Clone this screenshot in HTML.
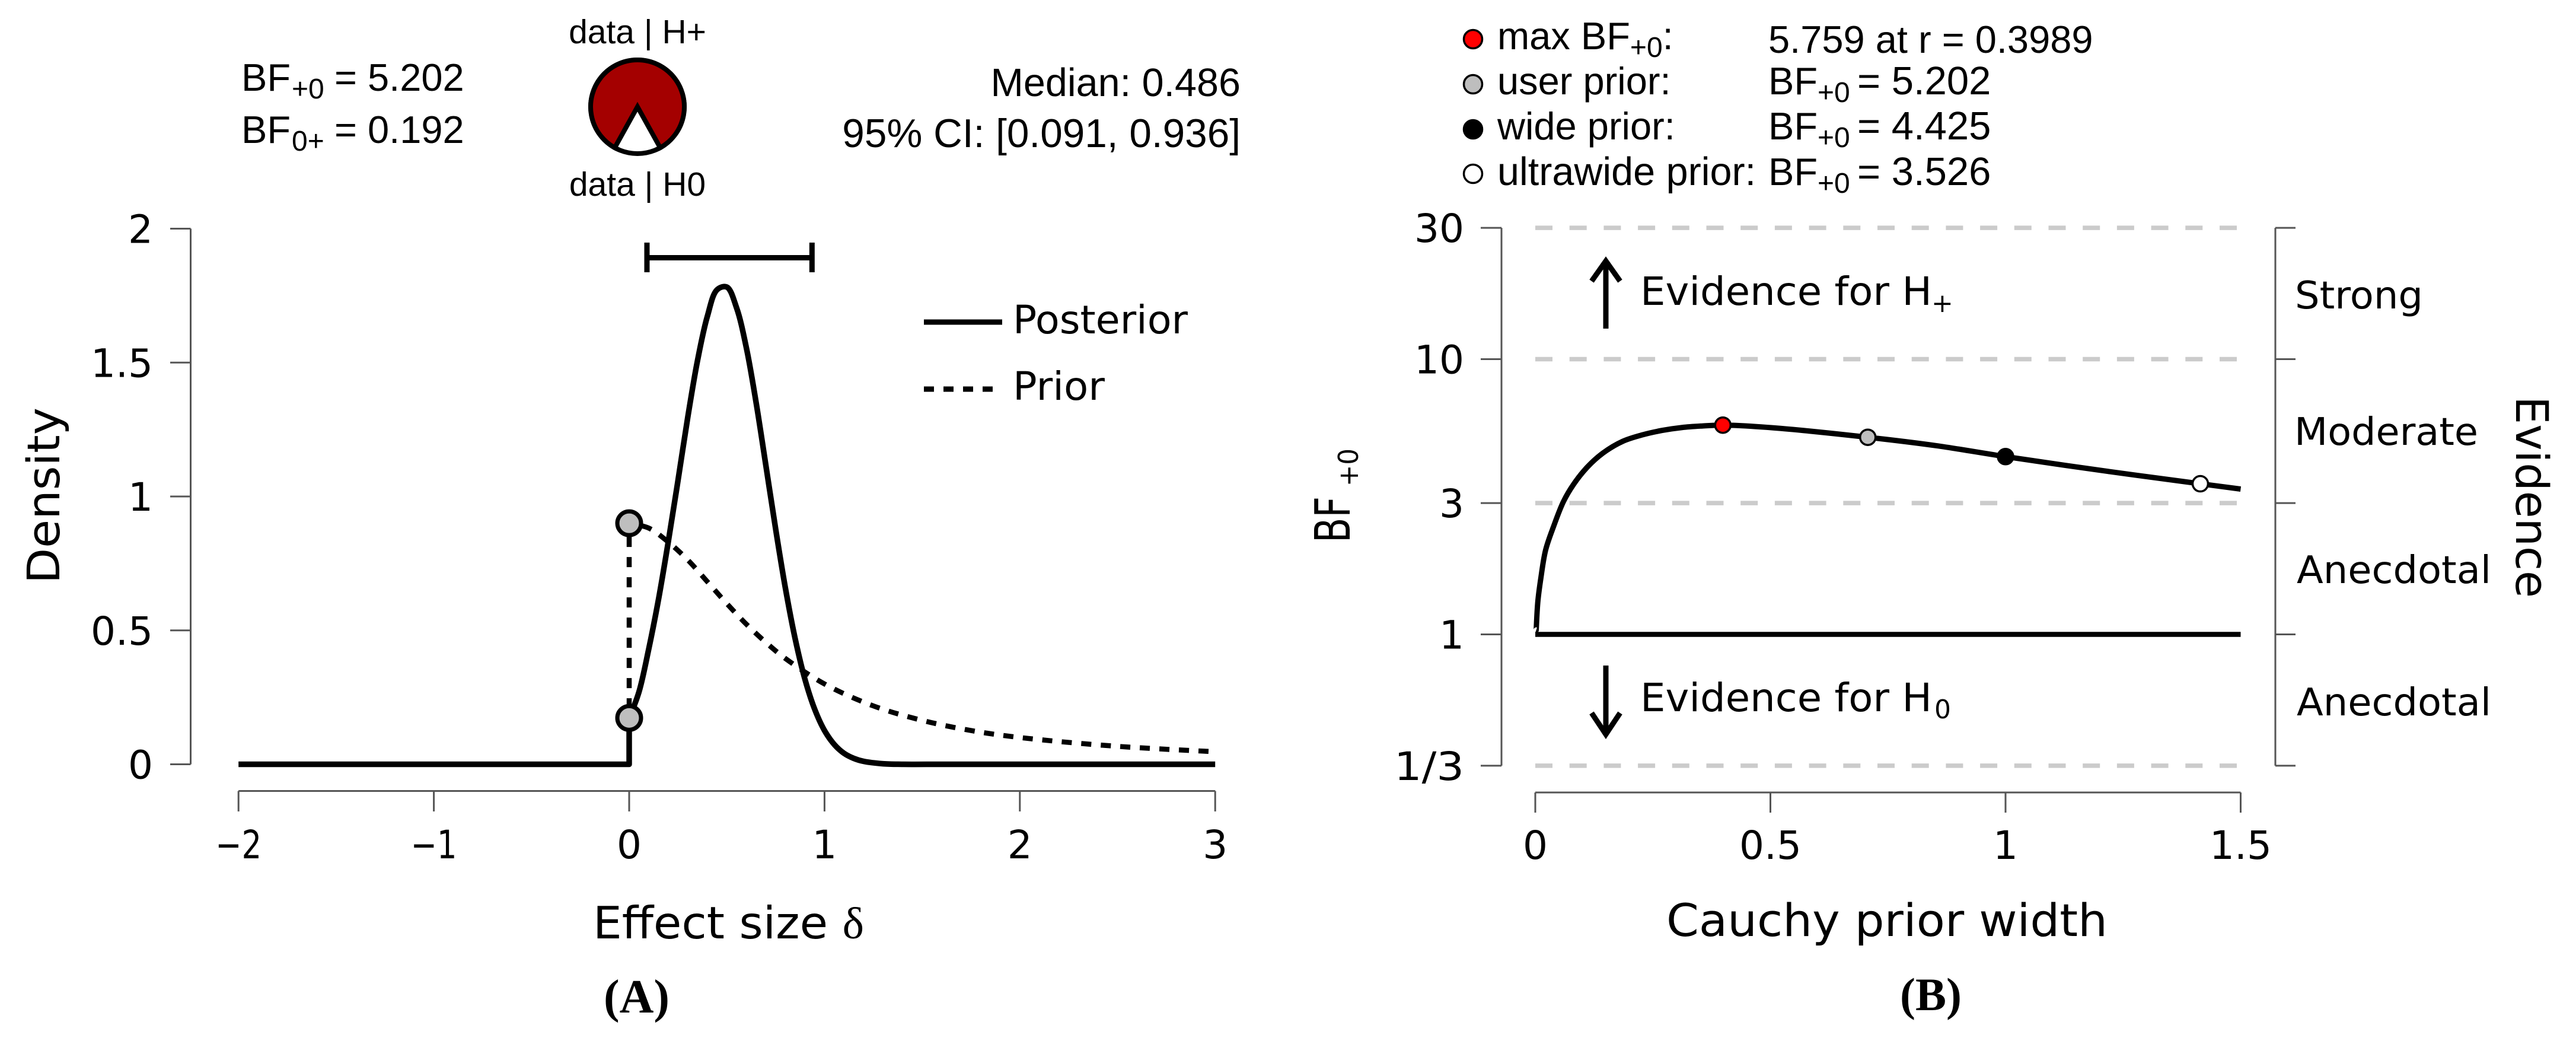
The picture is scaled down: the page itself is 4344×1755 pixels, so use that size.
<!DOCTYPE html>
<html lang="en">
<head>
<meta charset="utf-8">
<title>Bayesian analysis: prior and posterior, Bayes factor robustness</title>
<style>
html,body{margin:0;padding:0;background:#fff;}
svg{display:block;}
.h{font-family:"Liberation Sans",sans-serif;font-size:65px;fill:#000;}
.d{font-family:"DejaVu Sans",sans-serif;fill:#000;}
.s{font-family:"Liberation Serif",serif;font-weight:bold;fill:#000;}
</style>
</head>
<body>
<svg id="fig" xmlns="http://www.w3.org/2000/svg" width="4344" height="1755" viewBox="0 0 4344 1755">
<rect width="4344" height="1755" fill="#fff"/>

<!-- Panel A header -->
<text class="h" x="407" y="153">BF<tspan x="492" y="166" font-size="48">+0</tspan><tspan x="564" y="153">= 5.202</tspan></text>
<text class="h" x="407" y="241">BF<tspan x="492" y="254" font-size="48">0+</tspan><tspan x="564" y="241">= 0.192</tspan></text>
<text class="h" x="1075" y="73" text-anchor="middle" style="font-size:57px">data | H+</text>
<text class="h" x="1075" y="330" text-anchor="middle" style="font-size:57px">data | H0</text>
<text class="h" x="2092" y="162" text-anchor="end" style="font-size:66.5px">Median: 0.486</text>
<text class="h" x="2092" y="248" text-anchor="end" style="font-size:67.5px">95% CI: [0.091, 0.936]</text>
<g id="pie"></g>

<!-- Panel A chart -->
<g id="panelA"></g>
<text class="d" transform="translate(100,984) rotate(-90)" font-size="76" textLength="297" lengthAdjust="spacingAndGlyphs">Density</text>
<text class="d" x="1000" y="1582" font-size="75" textLength="457" lengthAdjust="spacingAndGlyphs">Effect size <tspan font-family="Liberation Serif">δ</tspan></text>
<text class="d" x="1708" y="562" font-size="66" textLength="295" lengthAdjust="spacingAndGlyphs">Posterior</text>
<text class="d" x="1708" y="674" font-size="66" textLength="155" lengthAdjust="spacingAndGlyphs">Prior</text>
<text class="s" x="1018" y="1707" font-size="80">(A)</text>

<!-- Panel B header -->
<g id="panelBLegend"></g>
<text class="h" x="2525" y="83">max BF<tspan y="96" font-size="48">+0</tspan><tspan y="83">:</tspan></text>
<text class="h" x="2982" y="89">5.759 at r = 0.3989</text>
<text class="h" x="2525" y="159">user prior:</text>
<text class="h" x="2982" y="159">BF<tspan x="3065" y="172" font-size="48">+0</tspan><tspan x="3132" y="159" font-size="67">= 5.202</tspan></text>
<text class="h" x="2525" y="235">wide prior:</text>
<text class="h" x="2982" y="235">BF<tspan x="3065" y="248" font-size="48">+0</tspan><tspan x="3132" y="235" font-size="67">= 4.425</tspan></text>
<text class="h" x="2525" y="312" style="font-size:66.5px">ultrawide prior:</text>
<text class="h" x="2982" y="312">BF<tspan x="3065" y="325" font-size="48">+0</tspan><tspan x="3132" y="312" font-size="67">= 3.526</tspan></text>

<!-- Panel B chart -->
<g id="panelB"></g>
<text class="d" transform="translate(2276,915) rotate(-90)" font-size="82" textLength="78" lengthAdjust="spacingAndGlyphs">BF</text>
<text class="d" transform="translate(2290,820) rotate(-90)" font-size="46" textLength="64" lengthAdjust="spacingAndGlyphs">+0</text>
<text class="d" x="2810" y="1578" font-size="76" textLength="744" lengthAdjust="spacingAndGlyphs">Cauchy prior width</text>
<text class="d" transform="translate(4243,668) rotate(90)" font-size="76" textLength="340" lengthAdjust="spacingAndGlyphs">Evidence</text>
<text class="d" x="3870" y="520" font-size="64" textLength="216" lengthAdjust="spacingAndGlyphs">Strong</text>
<text class="d" x="3869" y="750" font-size="64" textLength="310" lengthAdjust="spacingAndGlyphs">Moderate</text>
<text class="d" x="3873" y="983" font-size="64" textLength="328" lengthAdjust="spacingAndGlyphs">Anecdotal</text>
<text class="d" x="3873" y="1206" font-size="64" textLength="328" lengthAdjust="spacingAndGlyphs">Anecdotal</text>
<text class="d" x="2766" y="514" font-size="66" textLength="492" lengthAdjust="spacingAndGlyphs">Evidence for H</text>
<text class="d" x="3257" y="526" font-size="44">+</text>
<text class="d" x="2766" y="1199" font-size="66" textLength="492" lengthAdjust="spacingAndGlyphs">Evidence for H</text>
<text class="d" x="3262" y="1211" font-size="44">0</text>
<g fill="none" stroke="#000" stroke-width="9">
<path d="M2708 554V442M2684 474L2708 440L2732 474"/>
<path d="M2708 1122V1236M2684 1202L2708 1238L2732 1202"/>
</g>
<text class="s" x="3204" y="1703" font-size="78">(B)</text>
</svg>

<script>
// ---- Panel A data ----
const bfPlusZero = 5.202;
const xTicksA = [-2, -1, 0, 1, 2, 3];
const xTickLabelsA = ['\u22122', '\u22121', '0', '1', '2', '3'];
const yTicksA = [0, 0.5, 1, 1.5, 2];
const yTickLabelsA = ['0', '0.5', '1', '1.5', '2'];
const negativeDelta = [-2, 0];
const negativeDensity = [0, 0];
const posteriorDelta = [0, 0.05, 0.1, 0.15, 0.2, 0.25, 0.3, 0.35, 0.4, 0.45, 0.5, 0.55, 0.6, 0.65, 0.7, 0.75, 0.8, 0.85, 0.9, 0.95, 1.0, 1.05, 1.1, 1.15, 1.2, 1.3, 1.4, 1.6, 2, 3];
const posteriorDensity = [0.173, 0.27, 0.43, 0.615, 0.83, 1.06, 1.296, 1.508, 1.672, 1.772, 1.782, 1.704, 1.555, 1.35, 1.115, 0.878, 0.657, 0.468, 0.317, 0.205, 0.126, 0.074, 0.041, 0.022, 0.011, 0.002, 0, 0, 0, 0];
const priorDelta = [0, 0.1, 0.2, 0.3, 0.4, 0.5, 0.6, 0.7, 0.8, 1, 1.25, 1.5, 1.75, 2, 2.5, 3];
const priorDensity = [0.9, 0.882, 0.83, 0.763, 0.682, 0.6, 0.523, 0.455, 0.395, 0.3, 0.218, 0.164, 0.126, 0.1, 0.067, 0.047];
const credibleInterval = [0.091, 0.936];
const savageDickeyDensity = [0.9, 0.173];

// ---- Panel B data ----
const xTicksB = [0, 0.5, 1, 1.5];
const xTickLabelsB = ['0', '0.5', '1', '1.5'];
const yTicksB = [30, 10, 3, 1, 1 / 3];
const yTickLabelsB = ['30', '10', '3', '1', '1/3'];
const priorWidth = [0.002, 0.0055, 0.012, 0.022, 0.039, 0.06, 0.081, 0.111, 0.144, 0.186, 0.228, 0.27, 0.312, 0.354, 0.3989, 0.506, 0.7071, 0.852, 1, 1.218, 1.4142, 1.5];
const bfValues = [1.037, 1.319, 1.608, 2.026, 2.47, 3.04, 3.5, 4.06, 4.56, 5.03, 5.31, 5.51, 5.645, 5.716, 5.759, 5.63, 5.202, 4.85, 4.425, 3.91, 3.526, 3.373];
const markerWidths = [0.3989, 0.7071, 1, 1.4142];
const markerBF = [5.759, 5.202, 4.425, 3.526];
const markerFills = ['#ff0000', '#bebebe', '#000000', '#ffffff'];
const markerNames = ['max', 'user', 'wide', 'ultrawide'];

// ---- Scales ----
const xA = v => 1061 + 329.4 * v;
const yA = v => 1288.5 - 451.5 * v;
const xB = v => 2589 + 793 * v;
const yB = v => 1069.5 - 464 * Math.log10(v);

const NS = 'http://www.w3.org/2000/svg';
function mk(parent, tag, props, text) {
  const el = document.createElementNS(NS, tag);
  for (const k in props) el.setAttribute(k, props[k]);
  if (text !== undefined) el.textContent = text;
  parent.appendChild(el);
  return el;
}
// Centripetal Catmull-Rom through the read points
function smooth(pts) {
  let d = '';
  const dist = (a, b) => Math.sqrt(Math.hypot(a[0] - b[0], a[1] - b[1]));
  for (let i = 0; i < pts.length - 1; i++) {
    const p0 = pts[Math.max(i - 1, 0)], p1 = pts[i], p2 = pts[i + 1], p3 = pts[Math.min(i + 2, pts.length - 1)];
    const d1 = dist(p0, p1), d2 = dist(p1, p2), d3 = dist(p2, p3);
    const b1 = [0, 1].map(k => d1 === 0 ? p1[k] :
      (d1 * d1 * p2[k] - d2 * d2 * p0[k] + (2 * d1 * d1 + 3 * d1 * d2 + d2 * d2) * p1[k]) / (3 * d1 * (d1 + d2)));
    const b2 = [0, 1].map(k => d3 === 0 ? p2[k] :
      (d3 * d3 * p1[k] - d2 * d2 * p3[k] + (2 * d3 * d3 + 3 * d3 * d2 + d2 * d2) * p2[k]) / (3 * d3 * (d3 + d2)));
    d += 'C' + b1[0].toFixed(2) + ' ' + b1[1].toFixed(2) + ' ' + b2[0].toFixed(2) + ' ' + b2[1].toFixed(2) + ' ' + p2[0].toFixed(2) + ' ' + p2[1].toFixed(2);
  }
  return d;
}
const axisStyle = {stroke: '#555', 'stroke-width': 3, fill: 'none'};

// ---- Pie ----
const pie = document.getElementById('pie');
const cx = 1075, cy = 180, R = 79;
const h0Share = 1 / (1 + bfPlusZero);
const half = Math.PI * h0Share;
const pieBase = mk(pie, 'circle', {cx: cx, cy: cy, r: R, fill: '#fff', stroke: '#000', 'stroke-width': 8});


const pieSlice = mk(pie, 'path', {
  d: 'M' + cx + ' ' + cy + 'L' + (cx + R * Math.sin(half)) + ' ' + (cy + R * Math.cos(half)) +
     'A' + R + ' ' + R + ' 0 1 0 ' + (cx - R * Math.sin(half)) + ' ' + (cy + R * Math.cos(half)) + 'Z',
  fill: '#a40000', stroke: '#000', 'stroke-width': 8, 'stroke-linejoin': 'miter', 'stroke-miterlimit': 10});



// ---- Panel A ----
const A = document.getElementById('panelA');
const yAxisA = mk(A, 'line', Object.assign({x1: 321.5, x2: 321.5, y1: yA(2), y2: yA(0)}, axisStyle));


yTicksA.forEach((t, i) => {
  const tick = mk(A, 'line', Object.assign({x1: 287, x2: 321.5, y1: yA(t), y2: yA(t)}, axisStyle));
  
  
  const lab = mk(A, 'text', {class: 'd', x: 258, y: yA(t) + 24, 'font-size': 66, 'text-anchor': 'end'}, yTickLabelsA[i]);
  
  
});
const xAxisA = mk(A, 'line', Object.assign({x1: xA(-2), x2: xA(3), y1: 1333.5, y2: 1333.5}, axisStyle));


xTicksA.forEach((t, i) => {
  const tick = mk(A, 'line', Object.assign({x1: xA(t), x2: xA(t), y1: 1333.5, y2: 1368}, axisStyle));
  
  
  const props = {class: 'd', x: xA(t), y: 1447, 'font-size': 66, 'text-anchor': 'middle'};
  if (t < 0) { props.textLength = 78; props.lengthAdjust = 'spacingAndGlyphs'; }
  const lab = mk(A, 'text', props, xTickLabelsA[i]);
  
  
});
const priorVertical = mk(A, 'line', {x1: xA(0), x2: xA(0), y1: yA(savageDickeyDensity[0]), y2: yA(savageDickeyDensity[1]), stroke: '#000', 'stroke-width': 8.5, 'stroke-dasharray': '17 17', 'stroke-dashoffset': 11});


const priorPts = priorDelta.map((d, i) => [xA(d), yA(priorDensity[i])]);
const priorCurve = mk(A, 'path', {d: 'M' + priorPts[0][0] + ' ' + priorPts[0][1] + smooth(priorPts), fill: 'none', stroke: '#000', 'stroke-width': 8.5, 'stroke-dasharray': '17 16', 'stroke-dashoffset': 11});


const postPts = posteriorDelta.map((d, i) => [xA(d), yA(posteriorDensity[i])]);
let postD = 'M' + xA(negativeDelta[0]) + ' ' + yA(negativeDensity[0]) + 'L' + xA(negativeDelta[1]) + ' ' + yA(negativeDensity[1]) + 'L' + postPts[0][0] + ' ' + postPts[0][1];
postD += smooth(postPts);
const postCurve = mk(A, 'path', {d: postD, fill: 'none', stroke: '#000', 'stroke-width': 9.5, 'stroke-linejoin': 'round'});


savageDickeyDensity.forEach(v => {
  const dot = mk(A, 'circle', {cx: xA(0), cy: yA(v), r: 20, fill: '#bebebe', stroke: '#000', 'stroke-width': 7});
  
  
});
const ciY = 434.5;
const ciBar = mk(A, 'path', {d: 'M' + xA(credibleInterval[0]) + ' ' + ciY + 'H' + xA(credibleInterval[1]) +
  'M' + xA(credibleInterval[0]) + ' 409V459M' + xA(credibleInterval[1]) + ' 409V459', fill: 'none', stroke: '#000', 'stroke-width': 9});


const legendSolid = mk(A, 'line', {x1: 1558, x2: 1690, y1: 543, y2: 543, stroke: '#000', 'stroke-width': 9});


const legendDash = mk(A, 'line', {x1: 1558, x2: 1676, y1: 656, y2: 656, stroke: '#000', 'stroke-width': 9, 'stroke-dasharray': '17 16'});



// ---- Panel B ----
const B = document.getElementById('panelB');
const yAxisB = mk(B, 'line', Object.assign({x1: 2532, x2: 2532, y1: yB(30), y2: yB(1 / 3)}, axisStyle));


const rightAxisB = mk(B, 'line', Object.assign({x1: 3837, x2: 3837, y1: yB(30), y2: yB(1 / 3)}, axisStyle));


yTicksB.forEach((t, i) => {
  const tick = mk(B, 'line', Object.assign({x1: 2497, x2: 2532, y1: yB(t), y2: yB(t)}, axisStyle));
  
  
  const tickR = mk(B, 'line', Object.assign({x1: 3837, x2: 3871, y1: yB(t), y2: yB(t)}, axisStyle));
  
  
  const props = {class: 'd', x: 2469, y: yB(t) + 24, 'font-size': 66, 'text-anchor': 'end'};
  if (yTickLabelsB[i].length > 2) { props.textLength = 118; props.lengthAdjust = 'spacingAndGlyphs'; }
  const lab = mk(B, 'text', props, yTickLabelsB[i]);
  
  
  if (t !== 1) {
    const grid = mk(B, 'line', {x1: xB(0), x2: xB(1.5), y1: yB(t), y2: yB(t), stroke: '#cbcbcb', 'stroke-width': 7.5, 'stroke-dasharray': '29 28.7'});
    
    
  }
});
const xAxisB = mk(B, 'line', Object.assign({x1: xB(0), x2: xB(1.5), y1: 1336, y2: 1336}, axisStyle));


xTicksB.forEach((t, i) => {
  const tick = mk(B, 'line', Object.assign({x1: xB(t), x2: xB(t), y1: 1336, y2: 1370}, axisStyle));
  
  
  const lab = mk(B, 'text', {class: 'd', x: xB(t), y: 1448, 'font-size': 66, 'text-anchor': 'middle'}, xTickLabelsB[i]);
  
  
});
const refLine = mk(B, 'line', {x1: xB(0), x2: xB(1.5), y1: yB(1), y2: yB(1), stroke: '#000', 'stroke-width': 8.5});


const bfPts = priorWidth.map((r, i) => [xB(r), yB(bfValues[i])]);
const bfCurve = mk(B, 'path', {d: 'M' + bfPts[0][0] + ' ' + bfPts[0][1] + smooth(bfPts), fill: 'none', stroke: '#000', 'stroke-width': 9});


markerWidths.forEach((r, i) => {
  const m = mk(B, 'circle', {cx: xB(r), cy: yB(markerBF[i]), r: 13, fill: markerFills[i], stroke: '#000', 'stroke-width': 3.5});
  
  
});
const L = document.getElementById('panelBLegend');
const legendRowY = [66, 142, 218, 293];
markerFills.forEach((f, i) => {
  const m = mk(L, 'circle', {cx: 2484, cy: legendRowY[i], r: 15.5, fill: f, stroke: '#000', 'stroke-width': 3.5});
  
  
});
</script>
</body>
</html>
